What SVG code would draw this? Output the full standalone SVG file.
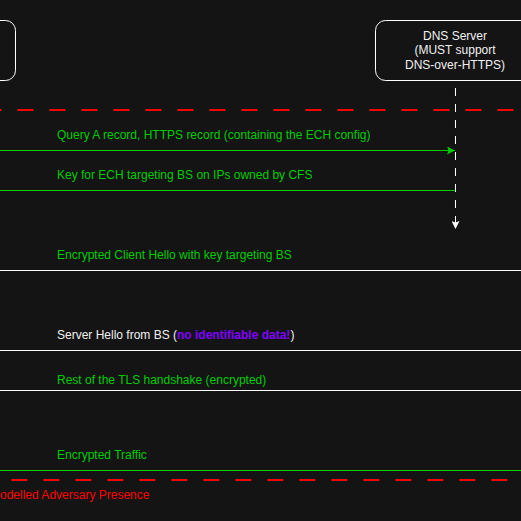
<svg xmlns="http://www.w3.org/2000/svg" width="521" height="521" viewBox="0 0 521 521">
<style>
text{font-family:"Liberation Sans",Arial,sans-serif;font-size:12px}
.g{fill:#00cc00}
.w{fill:#f0f0f0}
.box{fill:#141414;stroke:#ffffff;stroke-width:1}
.gl{stroke:#00cc00;stroke-width:1;fill:none}
.wl{stroke:#ffffff;stroke-width:1;fill:none}
.rd{stroke:#ff0000;stroke-width:2;stroke-dasharray:16 16;fill:none}
</style>
<defs>
<marker id="ga" viewBox="0 0 10 10" refX="10" refY="5" markerWidth="8" markerHeight="8" markerUnits="userSpaceOnUse" orient="auto">
<path d="M0,0 L10,5 L0,10 L2,5 Z" fill="#00cc00"/>
</marker>
<marker id="wa" viewBox="0 0 10 10" refX="10" refY="5" markerWidth="8" markerHeight="8" markerUnits="userSpaceOnUse" orient="auto">
<path d="M0,0 L10,5 L0,10 L2,5 Z" fill="#ffffff"/>
</marker>
</defs>
<rect width="521" height="521" fill="#141414"/>
<g id="client">
<rect class="box" x="-145" y="20.5" width="160.5" height="60" rx="10"/>
</g>
<g id="dns-server">
<rect class="box" x="375.5" y="20.5" width="159" height="60" rx="10"/>
<text class="w" x="455" y="39.5" text-anchor="middle">DNS Server</text>
<text class="w" x="455" y="54" text-anchor="middle">(MUST support</text>
<text class="w" x="455" y="68.5" text-anchor="middle">DNS-over-HTTPS)</text>
</g>
<g id="adversary-zone">
<line class="rd" x1="-14.7" y1="110" x2="530" y2="110"/>
<line class="rd" x1="-20.7" y1="480" x2="530" y2="480"/>
<text x="0" y="498.5" fill="#ff0000">odelled Adversary Presence</text>
</g>
<g id="connectors">
<line x1="455.5" y1="88" x2="455.5" y2="229" stroke="#ffffff" stroke-width="1" stroke-dasharray="8 8" marker-end="url(#wa)"/>
<line class="gl" x1="0" y1="150.5" x2="455" y2="150.5" marker-end="url(#ga)"/>
<text class="g" x="57" y="139.3">Query A record, HTTPS record (containing the ECH config)</text>
<line class="gl" x1="455" y1="190.5" x2="-20" y2="190.5"/>
<text class="g" x="57" y="179.3">Key for ECH targeting BS on IPs owned by CFS</text>
<line class="wl" x1="0" y1="270.5" x2="521" y2="270.5"/>
<text class="g" x="57" y="259.3">Encrypted Client Hello with key targeting BS</text>
<line class="wl" x1="521" y1="350.5" x2="0" y2="350.5"/>
<text class="w" x="57" y="339.3">Server Hello from BS (<tspan fill="#7f00ff" font-weight="bold">no identifiable data!</tspan>)</text>
<line class="wl" x1="0" y1="390.5" x2="521" y2="390.5"/>
<text class="g" x="57" y="384">Rest of the TLS handshake (encrypted)</text>
<line class="gl" x1="0" y1="470.5" x2="521" y2="470.5"/>
<text class="g" x="57" y="459.3">Encrypted Traffic</text>
</g>
</svg>
